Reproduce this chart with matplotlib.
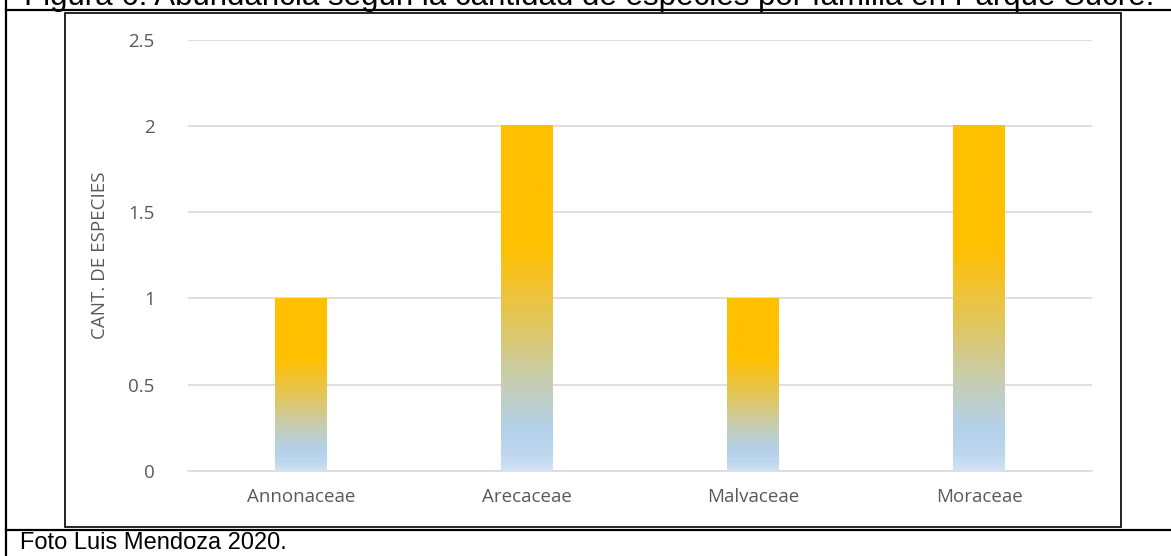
import numpy as np
import matplotlib
matplotlib.use('Agg')
import matplotlib.pyplot as plt
from matplotlib.colors import LinearSegmentedColormap
from matplotlib.lines import Line2D
from matplotlib.patches import Rectangle

# datos
familias = ['Annonaceae', 'Arecaceae', 'Malvaceae', 'Moraceae']
especies = [1, 2, 1, 2]
y_ticks = [0, 0.5, 1, 1.5, 2, 2.5]
y_tick_labels = ['0', '0.5', '1', '1.5', '2', '2.5']
titulo = 'Figura 6: Abundancia según la cantidad de especies por familia en Parque Sucre.'
pie = 'Foto Luis Mendoza 2020.'

W, H = 1171, 556
fig = plt.figure(figsize=(W / 100, H / 100), dpi=100)
fig.patch.set_facecolor('white')

# degradado de las barras (abajo -> arriba)
grad = LinearSegmentedColormap.from_list('grad', [
    (0.00, '#D2E3F4'),
    (0.05, '#BDD6EE'),
    (0.12, '#B4D1EB'),
    (0.20, '#BECFCB'),
    (0.30, '#CDCC9E'),
    (0.42, '#E0C660'),
    (0.55, '#F3C22A'),
    (0.65, '#FFC000'),
    (1.00, '#FFC000'),
])

ax = fig.add_axes([188 / W, (H - 471) / H, 904 / W, 431.5 / H])
ancho = 0.226
x = np.arange(len(familias))
g = np.linspace(0, 1, 256).reshape(-1, 1)
for xi, h in zip(x, especies):
    ax.imshow(g, cmap=grad, origin='lower', aspect='auto',
              extent=[xi - ancho / 2, xi + ancho / 2, 0, h], zorder=3)

ax.set_xlim(-0.5, len(familias) - 0.5)
ax.set_ylim(0, 2.5)
ax.set_yticks(y_ticks)
ax.set_yticklabels(y_tick_labels)
ax.set_xticks(x)
ax.set_xticklabels(familias)
ax.grid(axis='y', color='#D9D9D9', linewidth=1.2, zorder=0)
ax.set_axisbelow(True)
for s in ['top', 'right', 'left']:
    ax.spines[s].set_visible(False)
ax.spines['bottom'].set_color('#D9D9D9')
ax.spines['bottom'].set_linewidth(1.2)
ax.tick_params(axis='both', length=0, colors='#595959', labelsize=13.5)
ax.tick_params(axis='y', pad=24)
ax.tick_params(axis='x', pad=12)
for t in ax.get_xticklabels() + ax.get_yticklabels():
    t.set_fontfamily('Open Sans')
ax.set_ylabel('CANT. DE ESPECIES', color='#595959', fontsize=13.5,
              fontfamily='Open Sans', labelpad=14)

# marco del grafico
fig.add_artist(Rectangle((65 / W, (H - 527) / H), (1121 - 65) / W, (527 - 13) / H,
                         transform=fig.transFigure, fill=False,
                         edgecolor='black', linewidth=1.2))

# lineas de la tabla
fig.add_artist(Line2D([6 / W, 1], [(H - 9.5) / H] * 2, color='black', linewidth=1.6))
fig.add_artist(Line2D([6 / W, 1], [(H - 530) / H] * 2, color='black', linewidth=1.6))
fig.add_artist(Line2D([6 / W] * 2, [0, 1], color='black', linewidth=1.6))

# textos
fig.text(24 / W, (H - 5) / H, titulo, fontsize=22.5, fontfamily='Liberation Sans',
         va='baseline', ha='left', color='black')
fig.text(20 / W, (H - 549) / H, pie, fontsize=17, fontfamily='Liberation Sans',
         va='baseline', ha='left', color='black')

fig.savefig('out.png', dpi=100)
